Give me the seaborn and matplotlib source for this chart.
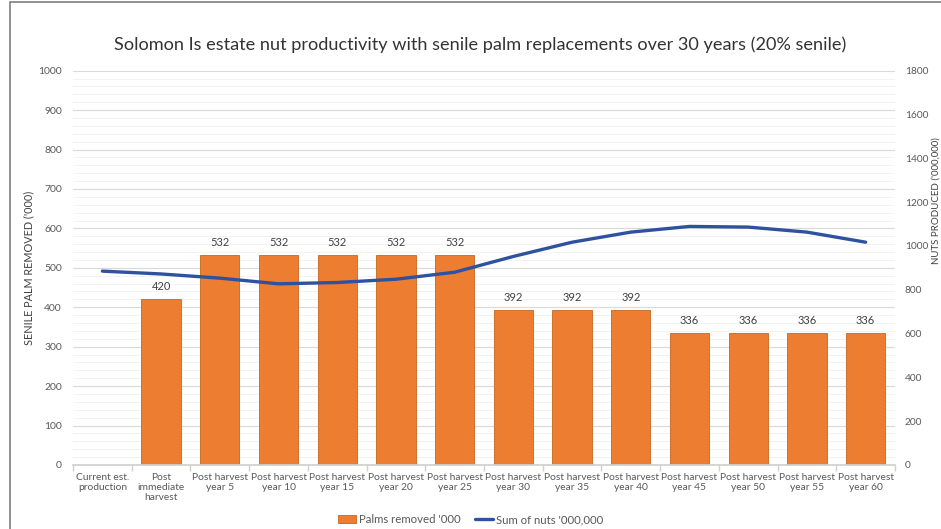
import numpy as np
import pandas as pd
import seaborn as sns
import matplotlib.pyplot as plt
from matplotlib.patches import Patch, Rectangle
from matplotlib.lines import Line2D
from matplotlib.ticker import MultipleLocator

# Chart data
categories = ["Current est.\nproduction", "Post\nimmediate\nharvest",
              "Post harvest\nyear 5", "Post harvest\nyear 10", "Post harvest\nyear 15",
              "Post harvest\nyear 20", "Post harvest\nyear 25", "Post harvest\nyear 30",
              "Post harvest\nyear 35", "Post harvest\nyear 40", "Post harvest\nyear 45",
              "Post harvest\nyear 50", "Post harvest\nyear 55", "Post harvest\nyear 60"]
palms_removed = [np.nan, 420, 532, 532, 532, 532, 532, 392, 392, 392, 336, 336, 336, 336]
nuts_sum = [885, 872, 853, 827, 833, 848, 880, 952, 1017, 1063, 1089, 1086, 1063, 1017]

orange = "#ED7D31"
blue = "#2F52A0"
text_col = "#595959"

sns.set_theme(style="white")
plt.rcParams["font.family"] = ["Lato", "DejaVu Sans"]

df = pd.DataFrame({"cat": categories, "palms": palms_removed, "nuts": nuts_sum})

fig = plt.figure(figsize=(9.41, 5.29), dpi=100)
ax = fig.add_axes([0.0776, 0.121, 0.8735, 0.7454])
ax2 = ax.twinx()

# Bars (primary axis)
sns.barplot(data=df, x="cat", y="palms", order=categories, color=orange,
            saturation=1, width=0.67, edgecolor="#C8651F", linewidth=0.6, ax=ax)
for c in ax.containers:
    ax.bar_label(c, fmt="%.0f", padding=5, fontsize=8, color="#404040")

# Line (secondary axis)
sns.pointplot(data=df, x="cat", y="nuts", order=categories, color=blue,
              markers="", linewidth=2.4, ax=ax2)

ax.set_ylim(0, 1000)
ax2.set_ylim(0, 1800)
ax.set_xlim(-0.5, len(categories) - 0.5)
ax.yaxis.set_major_locator(MultipleLocator(100))
ax.yaxis.set_minor_locator(MultipleLocator(20))
ax2.yaxis.set_major_locator(MultipleLocator(200))

ax.grid(axis="y", which="major", color="#d9d9d9", linewidth=0.8)
ax.grid(axis="y", which="minor", color="#f0f0f0", linewidth=0.6)
ax.set_axisbelow(True)
ax2.grid(False)

for a in (ax, ax2):
    for s in a.spines.values():
        s.set_visible(False)
ax.spines["bottom"].set_visible(True)
ax.spines["bottom"].set_color("#d0d0d0")

ax.set_xticks(range(len(categories)))
ax.set_xticklabels(categories, fontsize=7.4, color=text_col, linespacing=1.15)
ax.set_xticks(np.arange(-0.5, len(categories)), minor=True)
ax.tick_params(axis="x", which="major", length=0, pad=6)
ax.tick_params(axis="x", which="minor", length=4, color="#d0d0d0", direction="out", bottom=True)
ax.tick_params(axis="y", which="both", length=0, labelsize=7.5, labelcolor=text_col, pad=8)
ax2.tick_params(axis="y", length=0, labelsize=7.3, labelcolor=text_col, pad=7)

ax.set_xlabel("")
ax.set_ylabel("SENILE PALM REMOVED ('000)", fontsize=7.8, color="#404040", labelpad=3)
ax2.set_ylabel("")
fig.text(0.9945, 0.62, "NUTS PRODUCED ('000,000)", rotation=90, fontsize=7,
         color="#404040", ha="center", va="center")

fig.text(0.51, 0.915, "Solomon Is estate nut productivity with senile palm replacements over 30 years (20% senile)",
         fontsize=13.1, color="#333333", ha="center", va="center")

handles = [Patch(facecolor=orange, edgecolor="#C8651F", linewidth=0.6),
           Line2D([0], [0], color=blue, linewidth=2.4)]
fig.legend(handles, ["Palms removed '000", "Sum of nuts '000,000"], loc="center",
           bbox_to_anchor=(0.5, 0.018), ncol=2, frameon=False, fontsize=8.2,
           handlelength=1.6, handletextpad=0.3, columnspacing=1.2, labelcolor=text_col)

# chart-area border
fig.add_artist(Rectangle((0.011, -0.05), 1.2, 1.047, transform=fig.transFigure,
                         fill=False, edgecolor="#7f7f7f", linewidth=1.2))

fig.savefig("out.png", dpi=100)
